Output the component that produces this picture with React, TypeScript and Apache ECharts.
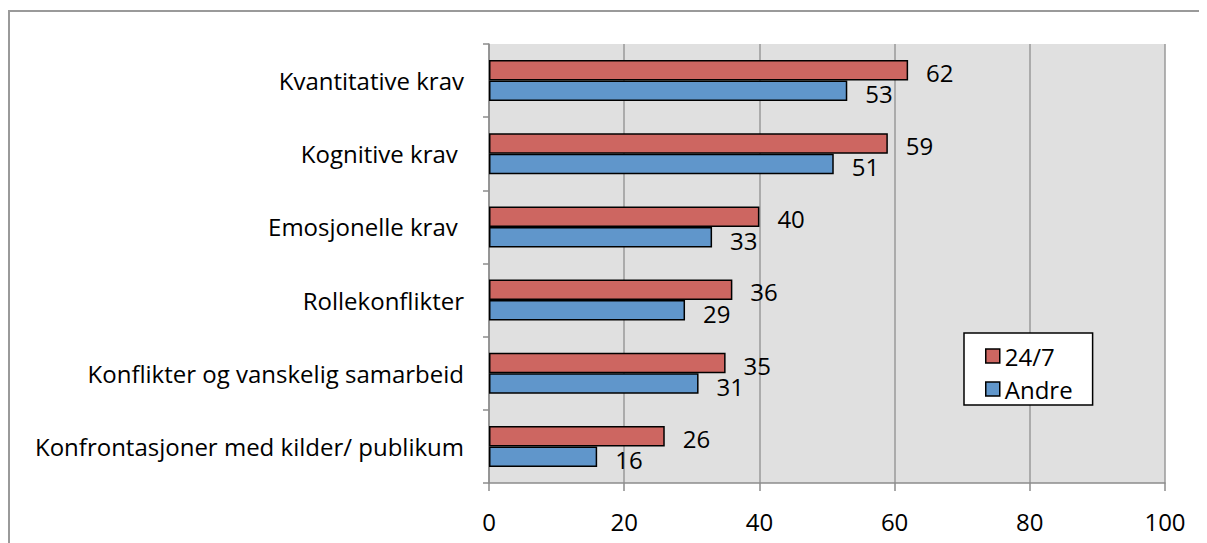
import React, { useEffect, useRef } from "react";
import * as echarts from "echarts";

const categories = [
  "Kvantitative krav",
  "Kognitive krav ",
  "Emosjonelle krav ",
  "Rollekonflikter",
  "Konflikter og vanskelig samarbeid",
  "Konfrontasjoner med kilder/ publikum",
];
const series247 = [62, 59, 40, 36, 35, 26];
const seriesAndre = [53, 51, 33, 29, 31, 16];
const seriesNames = ["24/7", "Andre"];
const xTicks = { min: 0, max: 100, interval: 20 };

const FONT = "'Open Sans', sans-serif";
const FS = 24;

export default function App() {
  const ref = useRef<HTMLDivElement>(null);
  useEffect(() => {
    if (!ref.current) return;
    const chart = echarts.init(ref.current, undefined, { renderer: "svg" });
    chart.setOption({
      animation: false,
      textStyle: { fontFamily: FONT },
      grid: {
        left: 481,
        top: 36,
        width: 676,
        height: 439,
        show: true,
        backgroundColor: "#e0e0e0",
        borderWidth: 0,
        containLabel: false,
      },
      legend: {
        orient: "vertical",
        left: 956,
        top: 325,
        data: seriesNames,
        itemWidth: 14,
        itemHeight: 14,
        itemGap: 9,
        itemStyle: { borderColor: "#000", borderWidth: 1.5 },
        padding: [11, 20, 4, 21],
        borderColor: "#000",
        borderWidth: 1.5,
        backgroundColor: "#fff",
        icon: "rect",
        textStyle: { fontFamily: FONT, fontSize: FS, color: "#000", lineHeight: 22 },
      },
      xAxis: {
        type: "value",
        min: xTicks.min,
        max: xTicks.max,
        interval: xTicks.interval,
        axisLine: { show: true, lineStyle: { color: "#8c8c8c", width: 1.5 } },
        axisTick: { show: true, length: 8, lineStyle: { color: "#8c8c8c", width: 1.5 } },
        axisLabel: { fontFamily: FONT, fontSize: FS, color: "#000", margin: 26 },
        splitLine: { show: true, lineStyle: { color: "#9a9a9a", width: 1.5 } },
      },
      yAxis: {
        type: "category",
        inverse: true,
        data: categories,
        axisLine: { show: true, lineStyle: { color: "#8c8c8c", width: 1.5 } },
        axisTick: { show: true, length: 6, lineStyle: { color: "#8c8c8c", width: 1.5 } },
        axisLabel: { fontFamily: FONT, fontSize: FS, color: "#000", margin: 25 },
      },
      series: [
        {
          name: seriesNames[0],
          type: "bar",
          data: series247,
          barGap: "0%",
          barCategoryGap: "44%",
          itemStyle: { color: "#cd6661", borderColor: "#000", borderWidth: 1.5 },
          label: {
            show: true,
            position: "right",
            distance: 18,
            offset: [0, 2],
            fontFamily: FONT,
            fontSize: FS,
            color: "#000",
          },
        },
        {
          name: seriesNames[1],
          type: "bar",
          data: seriesAndre,
          barGap: "0%",
          barCategoryGap: "44%",
          itemStyle: { color: "#6096cb", borderColor: "#000", borderWidth: 1.5 },
          label: {
            show: true,
            position: "right",
            distance: 18,
            offset: [0, 3],
            fontFamily: FONT,
            fontSize: FS,
            color: "#000",
          },
        },
      ],
    });
    return () => chart.dispose();
  }, []);
  return (
    <div style={{ position: "relative", width: 1199, height: 535, overflow: "hidden" }}>
      <div
        style={{
          position: "absolute",
          left: 0,
          top: 2,
          width: 1400,
          height: 800,
          borderTop: "2px solid #9a9a9a",
          borderLeft: "2px solid #9a9a9a",
        }}
      />
      <div ref={ref} style={{ position: "absolute", left: 0, top: 0, width: 1199, height: 535 }} />
    </div>
  );
}
